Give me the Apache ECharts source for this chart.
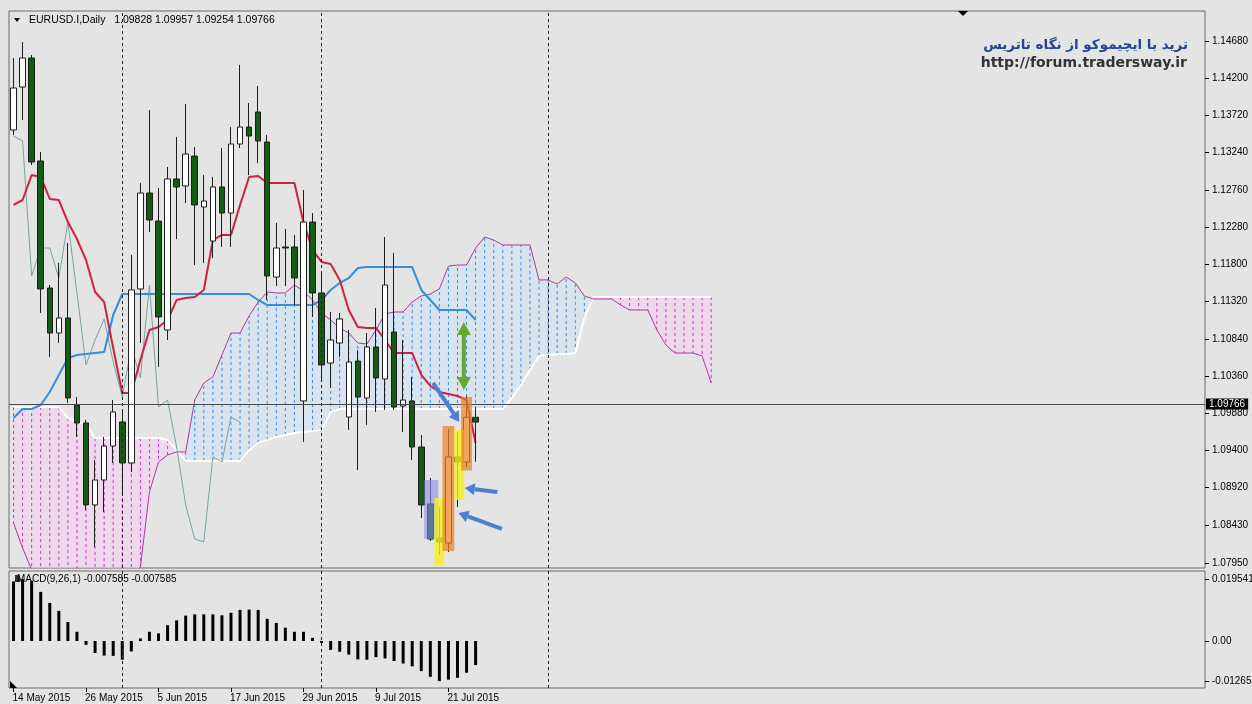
<!DOCTYPE html>
<html>
<head>
<meta charset="utf-8">
<title>EURUSD.I Daily - Ichimoku</title>
<script src="https://cdn.jsdelivr.net/npm/echarts@6.0.0/dist/echarts.min.js"></script>
<style>
html,body{margin:0;padding:0;background:#e4e4e4;}
#myChart1{width:1252px;height:704px;}
</style>
</head>
<body>
<div id="myChart1"></div>
<script>
// ---- data ----
var dates = ['14 May 2015','15 May 2015','18 May 2015','19 May 2015','20 May 2015','21 May 2015','22 May 2015','25 May 2015','26 May 2015','27 May 2015','28 May 2015','29 May 2015',
    '1 Jun 2015','2 Jun 2015','3 Jun 2015','4 Jun 2015','5 Jun 2015','8 Jun 2015','9 Jun 2015','10 Jun 2015','11 Jun 2015','12 Jun 2015','15 Jun 2015','16 Jun 2015','17 Jun 2015','18 Jun 2015','19 Jun 2015','22 Jun 2015','23 Jun 2015','24 Jun 2015','25 Jun 2015','26 Jun 2015','29 Jun 2015','30 Jun 2015',
    '1 Jul 2015','2 Jul 2015','3 Jul 2015','6 Jul 2015','7 Jul 2015','8 Jul 2015','9 Jul 2015','10 Jul 2015','13 Jul 2015','14 Jul 2015','15 Jul 2015','16 Jul 2015','17 Jul 2015','20 Jul 2015','21 Jul 2015','22 Jul 2015','23 Jul 2015','24 Jul 2015'];
var futureBars = 80;

var opens  = [1.13533,1.14087,1.14461,1.13133,1.11495,1.10915,1.11109,1.09987,1.09755,1.08698,1.09020,1.09458,1.09768,1.09239,1.11483,1.12720,1.12359,1.10954,1.12901,1.12811,1.13197,1.12540,1.12101,1.12798,1.12462,1.13352,
              1.13571,1.13765,1.13378,1.11637,1.12024,1.12024,1.10039,1.12346,1.11431,1.10528,1.10786,1.09832,1.10554,1.10077,1.10735,1.10322,1.10928,1.09974,1.10039,1.09445,1.08711,1.08272,1.08208,1.09317,1.09252,1.09828];
var highs  = [1.14461,1.14667,1.14500,1.13249,1.11534,1.11818,1.12076,1.10090,1.09794,1.09278,1.09574,1.10051,1.09923,1.11921,1.12849,1.13790,1.12785,1.13056,1.13442,1.13868,1.13313,1.12952,1.12927,1.13300,1.13571,1.14371,
              1.13881,1.14100,1.13468,1.12334,1.12256,1.12179,1.12759,1.12462,1.11702,1.11186,1.11173,1.10954,1.10696,1.10915,1.11238,1.12153,1.11947,1.10825,1.10348,1.09600,1.09046,1.08672,1.09678,1.09639,1.10100,1.09957];
var lows   = [1.13468,1.13661,1.13081,1.11173,1.10606,1.10786,1.10013,1.09574,1.08633,1.08156,1.08607,1.09239,1.08852,1.09123,1.10786,1.12217,1.10477,1.10825,1.12127,1.12591,1.11792,1.11818,1.11882,1.12024,1.12024,1.13300,
              1.12952,1.13107,1.11341,1.11521,1.11521,1.11276,1.09510,1.11122,1.10309,1.10206,1.10606,1.09665,1.09149,1.09729,1.09897,1.09923,1.09923,1.09639,1.09278,1.08530,1.08233,1.08053,1.08092,1.08672,1.09188,1.09254];
var closes = [1.14074,1.14461,1.13120,1.11483,1.10915,1.11109,1.10077,1.09755,1.08698,1.09020,1.09458,1.09897,1.09239,1.11470,1.12720,1.12372,1.11122,1.12901,1.12798,1.13223,1.12566,1.12617,1.12798,1.12462,1.13352,1.13571,
              1.13455,1.13391,1.11650,1.12011,1.12011,1.11624,1.12346,1.11431,1.10503,1.10825,1.11096,1.10541,1.10090,1.10735,1.10335,1.11534,1.09961,1.10051,1.09445,1.08698,1.08259,1.08221,1.09317,1.09252,1.09828,1.09766];

var tenkan = [1.12566,1.12630,1.12952,1.12927,1.12643,1.12630,1.12346,1.12127,1.11856,1.11444,1.11315,1.10722,1.10142,1.10142,1.10567,1.10954,1.10993,1.11083,1.11341,1.11366,1.11379,1.11470,1.12114,1.12179,1.12179,1.12566,
              1.12927,1.12939,1.12849,1.12849,1.12849,1.12849,1.12346,1.11985,1.11831,1.11805,1.11599,1.11212,1.10993,1.10980,1.10980,1.10825,1.10657,1.10657,1.10657,1.10374,1.10232,1.10155,1.10129,1.10103,1.10051,1.09497];
var kijun  = [1.09819,1.09935,1.09935,1.09987,1.10155,1.10374,1.10593,1.10632,1.10644,1.10657,1.10670,1.11147,1.11418,1.11418,1.11418,1.11418,1.11418,1.11418,1.11418,1.11418,1.11418,1.11418,1.11418,1.11418,1.11418,1.11418,
              1.11418,1.11341,1.11276,1.11276,1.11276,1.11276,1.11276,1.11276,1.11341,1.11470,1.11560,1.11624,1.11753,1.11766,1.11766,1.11766,1.11766,1.11766,1.11766,1.11470,1.11341,1.11212,1.11212,1.11212,1.11212,1.11083];
var spanA  = [1.09961,1.09961,1.09961,1.09961,1.09961,1.09961,1.09819,1.09768,1.09742,1.09562,1.09562,1.09562,1.09562,1.09562,1.09562,1.09562,1.09562,1.09536,1.09407,1.09265,1.09265,1.09265,1.09265,1.09265,1.09265,1.09265,
              1.09407,1.09497,1.09536,1.09574,1.09600,1.09626,1.09639,1.09652,1.09665,1.09897,1.09935,1.09935,1.09935,1.09935,1.09935,1.09935,1.09935,1.09935,1.09935,1.09935,1.09935,1.09935,1.09935,1.09935,1.09935,1.09935,
              1.09935,1.09935,1.09935,1.10077,1.10245,1.10438,1.10619,1.10632,1.10644,1.10644,1.10657,1.11109,1.11379,1.11379,1.11379,1.11379,1.11379,1.11379,1.11379,1.11379,1.11379,1.11379,1.11379,1.11379,1.11379,1.11379];
var spanB  = [1.08466,1.08143,1.07860,1.07710,1.07620,1.07620,1.07600,1.07600,1.07600,1.07600,1.07620,1.07650,1.07700,1.07760,1.07898,1.08865,1.09252,1.09342,1.09381,1.09381,1.10051,1.10271,1.10348,1.10632,1.10915,1.10915,
              1.11134,1.11315,1.11444,1.11431,1.11431,1.11534,1.11457,1.11341,1.11173,1.11083,1.10980,1.10915,1.10786,1.10773,1.10954,1.11160,1.11186,1.11186,1.11315,1.11392,1.11418,1.11483,1.11779,1.11792,1.11792,1.12011,
              1.12153,1.12114,1.12050,1.12050,1.12050,1.12050,1.11599,1.11599,1.11547,1.11637,1.11560,1.11392,1.11354,1.11354,1.11354,1.11276,1.11212,1.11212,1.11212,1.10954,1.10760,1.10657,1.10657,1.10657,1.10619,1.10271];

var macd = [0.0188,0.019541,0.0190,0.0155,0.0120,0.0095,0.0060,0.0029,-0.0012,-0.0038,-0.0046,-0.0047,-0.0059,-0.0033,0.0008,0.0029,0.0024,0.0050,0.0065,0.0080,0.0084,0.0084,0.0084,0.0081,0.0089,0.0098,
            0.0099,0.0098,0.0070,0.0057,0.0042,0.0029,0.0029,0.0010,-0.0006,-0.0028,-0.0034,-0.0043,-0.0058,-0.0059,-0.0051,-0.0055,-0.0063,-0.0071,-0.0080,-0.0095,-0.0113,-0.012655,-0.0122,-0.0116,-0.0100,-0.007585];

var priceTicks = [1.0795,1.0843,1.0892,1.0940,1.0988,1.1036,1.1084,1.1132,1.1180,1.1228,1.1276,1.1324,1.1372,1.1420,1.1468];
var macdTicks = [-0.012655,0,0.019541];
var separators = [12,34,59];

// marked candles (bar index, top price, bottom price)
var boxBars   = [46.1,47,48,49.2,50];
var boxTop    = [1.09020,1.08788,1.09716,1.09665,1.10090];
var boxBottom = [1.08259,1.07924,1.08105,1.08762,1.09142];
// arrows: from (bar, price) to (bar, price)
var arrowFrom = [[46.3,1.10271],[53.4,1.08865],[53.9,1.08388],[49.7,1.11057]];
var arrowTo   = [[49.2,1.09768],[49.8,1.08917],[49.1,1.08594],[49.7,1.10180]];

// ---- build ----
var nBars = dates.length + futureBars;
var cats = dates.slice();
for (var f = 0; f < futureBars; f++) cats.push('');
var candleData = opens.map(function (o, i) { return [o, closes[i], lows[i], highs[i]]; });
var chikou = closes.slice(26);
var lastClose = closes[closes.length - 1];
var lastMacd = macd[macd.length - 1];

var boxStyle = [
    {w: 1.55, c: 'rgba(140,140,235,0.6)'},
    {w: 1.1, c: 'rgba(245,240,30,0.8)'},
    {w: 1.3, c: 'rgba(235,128,35,0.72)'},
    {w: 1.1, c: 'rgba(245,240,30,0.8)'},
    {w: 1.2, c: 'rgba(235,128,35,0.72)'}
];
var arrowStyle = [
    {c: '#4d7fd0', lw: 4, hl: 10, hw: 6, both: false},
    {c: '#4d7fd0', lw: 4, hl: 10, hw: 6, both: false},
    {c: '#4d7fd0', lw: 4, hl: 10, hw: 6, both: false},
    {c: '#65a82c', lw: 4, hl: 13, hw: 7, both: true}
];

function arrowParts(p1, p2, s) {
    var dx = p2[0] - p1[0], dy = p2[1] - p1[1];
    var len = Math.sqrt(dx * dx + dy * dy);
    var ux = dx / len, uy = dy / len, nx = -uy, ny = ux;
    var e = [p2[0] - ux * s.hl, p2[1] - uy * s.hl];
    var b = s.both ? [p1[0] + ux * s.hl, p1[1] + uy * s.hl] : p1;
    var out = [{type: 'line', shape: {x1: b[0], y1: b[1], x2: e[0], y2: e[1]}, style: {stroke: s.c, lineWidth: s.lw}}];
    out.push({type: 'polygon', shape: {points: [p2, [e[0] + nx * s.hw, e[1] + ny * s.hw], [e[0] - nx * s.hw, e[1] - ny * s.hw]]}, style: {fill: s.c}});
    if (s.both) {
        out.push({type: 'polygon', shape: {points: [p1, [b[0] + nx * s.hw, b[1] + ny * s.hw], [b[0] - nx * s.hw, b[1] - ny * s.hw]]}, style: {fill: s.c}});
    }
    return out;
}

function dateTick(idx, val) {
    return idx % 8 === 0 && val !== '';
}

var fontAxis = '"Liberation Sans", Arial, sans-serif';

var option = {
    animation: false,
    backgroundColor: '#e4e4e4',
    grid: [
        {left: 9, right: 47, top: 11, height: 557, show: true, backgroundColor: '#e4e4e4', borderColor: '#6a6a6a', borderWidth: 1, outerBoundsMode: 'none'},
        {left: 9, right: 47, top: 571, height: 117, show: true, backgroundColor: '#e4e4e4', borderColor: '#6a6a6a', borderWidth: 1, outerBoundsMode: 'none'}
    ],
    xAxis: [
        {type: 'category', gridIndex: 0, data: cats, boundaryGap: true,
            axisLine: {show: false, onZero: false}, axisTick: {show: false}, axisLabel: {show: false}, splitLine: {show: false}},
        {type: 'category', gridIndex: 1, data: cats, boundaryGap: true, position: 'bottom',
            axisLine: {show: false, onZero: false},
            axisTick: {show: true, interval: dateTick, alignWithLabel: true, length: 4, lineStyle: {color: '#000'}},
            axisLabel: {interval: dateTick, align: 'left', margin: 5, fontSize: 10, color: '#000', fontFamily: fontAxis, padding: [0, 0, 0, -1]},
            splitLine: {show: false}},
        {type: 'value', gridIndex: 0, min: -0.5, max: nBars - 0.5, show: false, axisLine: {onZero: false}}
    ],
    yAxis: [
        {type: 'value', gridIndex: 0, position: 'right', min: 1.07885, max: 1.15067, scale: true,
            axisLine: {show: false, onZero: false},
            axisTick: {show: true, customValues: priceTicks, length: 4, lineStyle: {color: '#000'}},
            axisLabel: {customValues: priceTicks, margin: 7, fontSize: 10, color: '#000', fontFamily: fontAxis,
                formatter: function (v) { return v.toFixed(5); }},
            splitLine: {show: false}},
        {type: 'value', gridIndex: 1, position: 'right', min: -0.01483, max: 0.02208,
            axisLine: {show: false, onZero: false},
            axisTick: {show: true, customValues: macdTicks, length: 4, lineStyle: {color: '#000'}},
            axisLabel: {customValues: macdTicks, margin: 7, fontSize: 10, color: '#000', fontFamily: fontAxis,
                formatter: function (v) { return v === 0 ? '0.00' : v.toFixed(6); }},
            splitLine: {show: false}}
    ],
    series: [
        {   // kumo hatch
            name: 'Kumo', type: 'custom', xAxisIndex: 2, yAxisIndex: 0, z: 1, clip: true,
            data: spanA.map(function (a, i) { return [i, a, spanB[i]]; }),
            renderItem: function (params, api) {
                var i = api.value(0), a = api.value(1), b = api.value(2);
                var pa = api.coord([i, a]), pb = api.coord([i, b]);
                var bullish = b > a;
                var kids = [];
                if (i < spanA.length - 1) {
                    var pa2 = api.coord([i + 1, spanA[i + 1]]), pb2 = api.coord([i + 1, spanB[i + 1]]);
                    kids.push({type: 'polygon', shape: {points: [pa, pa2, pb2, pb]},
                        style: {fill: bullish ? 'rgba(205,225,245,0.55)' : 'rgba(245,205,240,0.55)'}});
                }
                kids.push({type: 'line', shape: {x1: pa[0], y1: pa[1], x2: pb[0], y2: pb[1]},
                    style: {stroke: bullish ? '#3b8ee2' : '#d62fd0', lineWidth: 1, lineDash: [3, 3]}});
                return {type: 'group', children: kids};
            }
        },
        {name: 'Senkou A', type: 'line', xAxisIndex: 0, yAxisIndex: 0, data: spanA, z: 2, symbol: 'none',
            lineStyle: {color: '#ffffff', width: 2}},
        {name: 'Senkou B', type: 'line', xAxisIndex: 0, yAxisIndex: 0, data: spanB, z: 2, symbol: 'none',
            lineStyle: {color: '#b0389e', width: 1}},
        {name: 'Chikou', type: 'line', xAxisIndex: 0, yAxisIndex: 0, data: chikou, z: 3, symbol: 'none',
            lineStyle: {color: '#78a3a3', width: 1}},
        {name: 'Kijun', type: 'line', xAxisIndex: 0, yAxisIndex: 0, data: kijun, z: 3, symbol: 'none',
            lineStyle: {color: '#2f8fe0', width: 2},
            markLine: {silent: true, symbol: ['none', 'none'], label: {show: false},
                lineStyle: {color: '#222', type: [3, 3], width: 1},
                data: separators.map(function (s) { return {xAxis: s}; })}},
        {name: 'Tenkan', type: 'line', xAxisIndex: 0, yAxisIndex: 0, data: tenkan, z: 3, symbol: 'none',
            lineStyle: {color: '#d0203f', width: 2}},
        {name: 'EURUSD', type: 'candlestick', xAxisIndex: 0, yAxisIndex: 0, data: candleData, z: 4, barWidth: 6,
            itemStyle: {color: '#ffffff', color0: '#135c13', borderColor: '#1e1e1e', borderColor0: '#1e1e1e', borderWidth: 1},
            markLine: {silent: true, symbol: ['none', 'none'],
                lineStyle: {color: '#4a4a4a', type: 'solid', width: 1.2},
                label: {position: 'end', distance: 1, formatter: lastClose.toFixed(5), backgroundColor: '#000', color: '#fff',
                    fontSize: 10, fontFamily: fontAxis, padding: [1, 3, 0, 3]},
                data: [{yAxis: lastClose}]}},
        {   // highlight boxes
            name: 'Marks', type: 'custom', xAxisIndex: 2, yAxisIndex: 0, z: 5,
            data: boxBars.map(function (x, k) { return [x, boxTop[k], boxBottom[k]]; }),
            renderItem: function (params, api) {
                var s = boxStyle[params.dataIndex];
                var p1 = api.coord([api.value(0), api.value(1)]);
                var p2 = api.coord([api.value(0), api.value(2)]);
                var w = api.size([1, 0])[0] * s.w;
                return {type: 'rect', shape: {x: p1[0] - w / 2, y: p1[1], width: w, height: p2[1] - p1[1]}, style: {fill: s.c}};
            }
        },
        {   // arrows
            name: 'Arrows', type: 'custom', xAxisIndex: 2, yAxisIndex: 0, z: 6,
            data: arrowFrom.map(function (p, k) { return [p[0], p[1], arrowTo[k][0], arrowTo[k][1]]; }),
            renderItem: function (params, api) {
                var p1 = api.coord([api.value(0), api.value(1)]);
                var p2 = api.coord([api.value(2), api.value(3)]);
                return {type: 'group', children: arrowParts(p1, p2, arrowStyle[params.dataIndex])};
            }
        },
        {name: 'MACD', type: 'bar', xAxisIndex: 1, yAxisIndex: 1, data: macd, barWidth: 3,
            itemStyle: {color: '#000'},
            markLine: {silent: true, symbol: ['none', 'none'], label: {show: false},
                lineStyle: {color: '#222', type: [3, 3], width: 1},
                data: separators.map(function (s) { return {xAxis: s}; })}}
    ],
    graphic: [
        {type: 'polygon', shape: {points: [[14, 18], [20, 18], [17, 22]]}, style: {fill: '#000'}},
        {type: 'text', style: {x: 29, y: 20, text: 'EURUSD.I,Daily   ' + [opens[51], highs[51], lows[51], closes[51]].map(function (v) { return v.toFixed(5); }).join(' '),
            font: '10.5px ' + fontAxis, fill: '#000', textVerticalAlign: 'middle'}},
        {type: 'polygon', shape: {points: [[958, 11], [968, 11], [963, 16]]}, style: {fill: '#000'}},
        {type: 'text', style: {x: 1188, y: 45, text: 'ترید با ایچیموکو از نگاه تاتریس', font: 'bold 13.5px "DejaVu Sans"',
            fill: '#22449c', textAlign: 'right', textVerticalAlign: 'middle'}},
        {type: 'text', style: {x: 1187, y: 63, text: 'http://forum.tradersway.ir', font: 'bold 14px "DejaVu Sans"',
            fill: '#333', textAlign: 'right', textVerticalAlign: 'middle'}},
        {type: 'rect', shape: {x: 15, y: 575, width: 5, height: 7}, style: {fill: '#333'}},
        {type: 'text', style: {x: 17, y: 579, text: 'MACD(9,26,1) ' + lastMacd.toFixed(6) + ' ' + lastMacd.toFixed(6),
            font: '10px ' + fontAxis, fill: '#000', textVerticalAlign: 'middle'}},
        {type: 'polygon', shape: {points: [[10, 681], [10, 688], [17, 688]]}, style: {fill: '#000'}}
    ]
};

var myChart1 = echarts.init(document.getElementById('myChart1'));
myChart1.setOption(option);
window.onresize = myChart1.resize;
</script>
</body>
</html>
